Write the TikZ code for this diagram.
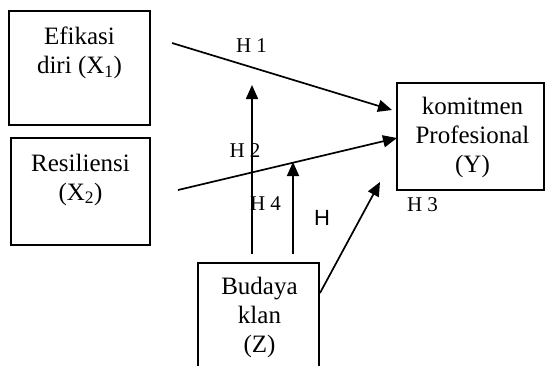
\documentclass[tikz,border=0pt]{standalone}
\usepackage{fontspec}
\setmainfont{Liberation Serif}
\newfontfamily\policesans{Liberation Sans}
\usetikzlibrary{positioning,arrows.meta}

\begin{document}
\begin{tikzpicture}[x=1pt,y=-1pt]
\tikzset{boite/.style={draw, line width=1.7pt, inner sep=0pt},
texte/.style={align=center, inner sep=0pt, font=\fontsize{25}{29}\selectfont},
etiq/.style={inner sep=0pt, anchor=base, font=\fontsize{21}{24}\selectfont},
fleche/.style={line width=1.7pt, -{Triangle[length=14pt,width=12pt]}}}
\clip (0,0) rectangle (547,365);
% les boites
\node[boite, minimum width=141pt, minimum height=114pt] (X1) at (79.5,68) {};
\node[boite, minimum width=139pt, minimum height=107pt] (X2) at (80.5,191.5) {};
\node[boite, minimum width=147pt, minimum height=107pt] (Y) at (470.5,136.5) {};
\node[boite, minimum width=121pt, minimum height=120pt] (Z) at (258.5,323) {};
\node[texte, below=16.5pt of X1.north] (T1) {Efikasi\\diri (X\textsubscript{1})};
\node[texte, below=16.5pt of X2.north] (T2) {Resiliensi\\(X\textsubscript{2})};
\node[texte, below=14.5pt of Y.north, xshift=2pt] (TY) {komitmen\\Profesional\\(Y)};
\node[texte, below=14.5pt of Z.north, xshift=1pt] (TZ) {Budaya\\klan\\(Z)};
% les extremites des fleches
\coordinate (a1) at (172,43);
\coordinate (b1) at (392,110);
\coordinate (a2) at (178,190);
\coordinate (b2) at (397,138);
\coordinate (a4) at (252,254);
\coordinate (b4) at (252,85);
\coordinate (a5) at (293,254);
\coordinate (b5) at (293,162);
\coordinate (a3) at (320,293);
\coordinate (b3) at (380,182);
\draw[fleche] (a1) -- (b1);
\draw[fleche] (a2) -- (b2);
\draw[fleche] (a4) -- (b4);
\draw[fleche] (a5) -- (b5);
\draw[fleche] (a3) -- (b3);
% les hypotheses
\node[etiq] (H1) at (251.5,52) {H 1};
\node[etiq] (H2) at (245,157) {H 2};
\node[etiq] (H4) at (265.5,210) {H 4};
\node[etiq, font=\policesans\fontsize{22}{24}\selectfont] (H5) at (322,225) {H};
\node[etiq] (H3) at (422.5,211) {H 3};
\end{tikzpicture}
\end{document}
